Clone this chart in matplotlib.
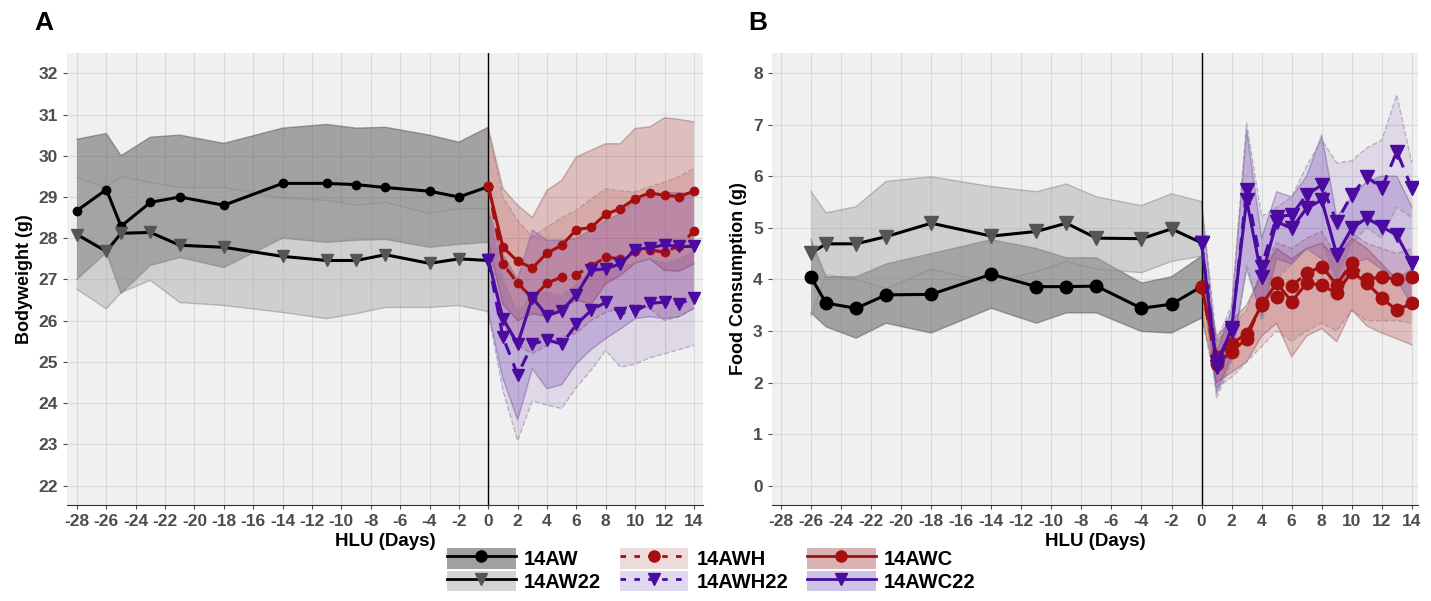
import numpy as np
import matplotlib.pyplot as plt
from matplotlib.patches import Patch
from matplotlib.lines import Line2D

plt.rcParams['font.family'] = ['Liberation Sans', 'DejaVu Sans']
plt.rcParams['axes.unicode_minus'] = False

# --- Panel A : poids corporel ---
jours_pre_A = [-28, -26, -25, -23, -21, -18, -14, -11, -9, -7, -4, -2, 0]
aw_A = [28.67, 29.18, 28.29, 28.87, 29.0, 28.8, 29.33, 29.33, 29.3, 29.23, 29.14, 29.0, 29.25]
aw_A_hi = [30.4, 30.54, 30.0, 30.45, 30.5, 30.3, 30.67, 30.76, 30.67, 30.69, 30.5, 30.33, 30.69]
aw_A_lo = [27.0, 27.65, 26.66, 27.34, 27.53, 27.29, 28.0, 27.9, 27.95, 27.97, 27.78, 27.85, 27.9]
aw22_A = [28.09, 27.68, 28.12, 28.14, 27.83, 27.78, 27.56, 27.46, 27.46, 27.6, 27.39, 27.5, 27.46]
aw22_A_hi = [29.47, 29.23, 29.5, 29.35, 29.23, 29.23, 28.97, 28.92, 28.8, 28.87, 28.6, 28.72, 28.72]
aw22_A_lo = [26.76, 26.29, 26.68, 26.98, 26.44, 26.37, 26.2, 26.05, 26.17, 26.32, 26.32, 26.37, 26.22]

jours_post = list(range(0, 15))
awc_A = [29.26, 27.78, 27.44, 27.28, 27.64, 27.83, 28.21, 28.26, 28.58, 28.72, 28.96, 29.1, 29.04, 29.01, 29.14]
awc_A_hi = [30.66, 29.2, 28.8, 28.5, 29.16, 29.4, 29.97, 30.13, 30.29, 30.29, 30.66, 30.7, 30.92, 30.88, 30.82]
awc_A_lo = [27.9, 26.4, 26.0, 26.17, 26.1, 26.3, 26.5, 26.4, 26.9, 27.1, 27.4, 27.5, 27.22, 27.2, 27.38]
awh_A = [29.26, 27.38, 26.91, 26.55, 26.91, 27.06, 27.12, 27.32, 27.54, 27.5, 27.7, 27.72, 27.66, 27.82, 28.17]
awh_A_hi = [30.66, 29.0, 28.43, 28.03, 28.27, 28.5, 28.68, 28.95, 29.2, 29.15, 29.12, 29.25, 29.36, 29.5, 29.69]
awh_A_lo = [27.9, 25.9, 25.4, 25.2, 25.4, 25.6, 25.7, 26.0, 26.2, 26.3, 26.4, 26.3, 26.0, 26.1, 26.3]
awc22_A = [27.48, 26.05, 25.44, 26.56, 26.12, 26.24, 26.63, 27.22, 27.26, 27.38, 27.72, 27.77, 27.84, 27.8, 27.8]
awc22_A_hi = [28.7, 27.6, 27.0, 28.2, 27.95, 27.95, 28.0, 28.2, 28.43, 28.6, 28.92, 29.0, 29.11, 29.1, 29.08]
awc22_A_lo = [26.2, 24.6, 23.6, 24.84, 24.35, 24.45, 24.96, 25.3, 25.57, 25.8, 26.05, 26.1, 26.05, 26.1, 26.3]
awh22_A = [27.48, 25.6, 24.69, 25.43, 25.54, 25.43, 25.91, 26.25, 26.45, 26.18, 26.23, 26.42, 26.45, 26.41, 26.56]
awh22_A_hi = [28.7, 27.0, 26.2, 26.6, 26.7, 26.6, 26.9, 27.2, 27.4, 27.3, 27.4, 27.5, 27.4, 27.5, 27.7]
awh22_A_lo = [26.2, 24.3, 23.09, 24.06, 23.95, 23.87, 24.38, 24.8, 25.28, 24.87, 24.95, 25.1, 25.2, 25.3, 25.4]

# --- Panel B : consommation alimentaire ---
jours_pre_B = [-26, -25, -23, -21, -18, -14, -11, -9, -7, -4, -2, 0]
aw_B = [4.04, 3.54, 3.44, 3.7, 3.71, 4.1, 3.86, 3.86, 3.87, 3.44, 3.52, 3.86]
aw_B_hi = [4.77, 4.05, 4.05, 4.3, 4.5, 4.77, 4.6, 4.42, 4.42, 3.93, 4.05, 4.45]
aw_B_lo = [3.35, 3.08, 2.86, 3.15, 2.96, 3.44, 3.15, 3.35, 3.35, 2.99, 2.96, 3.25]
aw22_B = [4.51, 4.69, 4.69, 4.83, 5.09, 4.84, 4.93, 5.09, 4.8, 4.79, 4.98, 4.71]
aw22_B_hi = [5.7, 5.29, 5.41, 5.9, 5.99, 5.8, 5.7, 5.85, 5.6, 5.43, 5.66, 5.51]
aw22_B_lo = [3.3, 4.09, 4.0, 3.82, 4.2, 3.93, 4.15, 4.35, 4.2, 4.13, 4.35, 4.45]

awc_B = [3.86, 2.5, 2.75, 2.95, 3.5, 3.93, 3.57, 3.93, 3.89, 3.73, 4.15, 3.93, 3.64, 3.4, 3.54]
awc_B_hi = [4.4, 2.9, 3.2, 3.5, 4.1, 4.6, 4.4, 4.6, 4.7, 4.4, 4.8, 4.6, 4.3, 4.0, 4.2]
awc_B_lo = [3.3, 2.0, 2.2, 2.4, 2.9, 3.15, 2.5, 2.9, 3.05, 2.79, 3.41, 3.1, 2.96, 2.85, 2.73]
awh_B = [3.86, 2.35, 2.6, 2.85, 3.55, 3.66, 3.87, 4.12, 4.25, 3.9, 4.32, 4.0, 4.05, 4.0, 4.05]
awh_B_hi = [4.4, 2.8, 3.1, 3.4, 4.2, 4.71, 4.6, 4.8, 4.93, 4.44, 4.9, 4.7, 4.6, 4.5, 4.6]
awh_B_lo = [3.3, 1.9, 2.1, 2.4, 2.7, 3.0, 2.8, 3.0, 3.15, 3.0, 3.4, 3.2, 3.2, 3.2, 3.15]
awc22_B = [4.7, 2.3, 3.05, 5.54, 4.05, 5.12, 4.99, 5.38, 5.54, 4.48, 4.99, 5.19, 5.02, 4.86, 4.31]
awc22_B_hi = [5.5, 2.6, 3.4, 6.9, 4.8, 5.7, 5.6, 6.0, 6.8, 5.2, 5.6, 5.9, 6.0, 6.0, 5.41]
awc22_B_lo = [4.0, 1.8, 2.5, 4.2, 3.3, 4.4, 4.3, 4.6, 4.4, 3.7, 4.3, 4.4, 4.2, 4.0, 3.5]
awh22_B = [4.7, 2.4, 3.0, 5.74, 4.25, 5.22, 5.25, 5.64, 5.83, 5.12, 5.64, 5.99, 5.77, 6.48, 5.77]
awh22_B_hi = [5.5, 2.8, 3.5, 7.03, 5.22, 5.4, 5.6, 6.2, 6.71, 6.26, 6.3, 6.55, 6.7, 7.58, 6.26]
awh22_B_lo = [4.4, 1.7, 2.4, 4.3, 3.2, 4.0, 4.3, 4.6, 4.7, 4.0, 4.7, 5.0, 4.8, 5.4, 5.2]

noms = ['14AW', '14AW22', '14AWH', '14AWH22', '14AWC', '14AWC22']
ROUGE = '#A50F0F'
VIOLET = '#4B0AA0'
GRIS_TXT = '#4D4D4D'


def bande(ax, x, lo, hi, couleur, alpha, style, bord):
    ax.fill_between(x, lo, hi, facecolor=couleur, alpha=alpha, linewidth=0, zorder=2)
    ax.plot(x, lo, color=bord, alpha=0.5, lw=1, ls=style, zorder=2)
    ax.plot(x, hi, color=bord, alpha=0.5, lw=1, ls=style, zorder=2)


def courbe(ax, x, y, couleur, marker, style, mfc=None, ms=7):
    ax.plot(x, y, color=couleur, lw=2.2, ls=style, marker=marker, ms=ms,
            mfc=mfc or couleur, mec=mfc or couleur, zorder=4)


def habillage(ax, yticks, ylabel):
    ax.set_facecolor('#F0F0F0')
    ax.set_xticks(range(-28, 15, 2))
    ax.set_yticks(yticks)
    ax.grid(True, color='#D9D9D9', lw=0.8, zorder=0)
    ax.set_axisbelow(True)
    for s in ['top', 'right', 'left']:
        ax.spines[s].set_visible(False)
    ax.spines['bottom'].set_color('#333333')
    ax.tick_params(axis='both', colors=GRIS_TXT, labelsize=12.5, length=3)
    for lab in ax.get_xticklabels() + ax.get_yticklabels():
        lab.set_fontweight('bold')
    ax.axvline(0, color='black', lw=1, zorder=3)
    ax.set_xlabel('HLU (Days)', fontsize=13.5, fontweight='bold', labelpad=3)
    ax.set_ylabel(ylabel, fontsize=13, fontweight='bold', labelpad=4)


fig = plt.figure(figsize=(14.31, 6.01), dpi=100)
axA = fig.add_axes([0.0468, 0.1597, 0.4444, 0.752])
axB = fig.add_axes([0.5393, 0.1597, 0.4517, 0.752])

# Panel A
bande(axA, jours_pre_A, aw_A_lo, aw_A_hi, '#555555', 0.5, '-', '#555555')
bande(axA, jours_pre_A, aw22_A_lo, aw22_A_hi, '#A8A8A8', 0.45, '-', '#888888')
bande(axA, jours_post, awc_A_lo, awc_A_hi, ROUGE, 0.22, '-', '#9A6A6A')
bande(axA, jours_post, awh_A_lo, awh_A_hi, ROUGE, 0.12, '--', '#9A8080')
bande(axA, jours_post, awc22_A_lo, awc22_A_hi, VIOLET, 0.2, '-', '#7A6A9A')
bande(axA, jours_post, awh22_A_lo, awh22_A_hi, VIOLET, 0.10, '--', '#85809A')
courbe(axA, jours_pre_A, aw_A, 'black', 'o', '-', ms=6)
courbe(axA, jours_pre_A, aw22_A, 'black', 'v', '-', mfc='#555555', ms=8)
courbe(axA, jours_post, awh_A, ROUGE, 'o', (0, (4, 3)), ms=6)
courbe(axA, jours_post, awc_A, ROUGE, 'o', '-', ms=6)
courbe(axA, jours_post, awh22_A, VIOLET, 'v', (0, (4, 3)), ms=8)
courbe(axA, jours_post, awc22_A, VIOLET, 'v', '-', ms=8)
axA.set_xlim(-28.68, 14.61)
axA.set_ylim(21.53, 32.49)
habillage(axA, range(22, 33), 'Bodyweight (g)')

# Panel B
bande(axB, jours_pre_B, aw_B_lo, aw_B_hi, '#555555', 0.5, '-', '#555555')
bande(axB, jours_pre_B, aw22_B_lo, aw22_B_hi, '#A8A8A8', 0.45, '-', '#888888')
bande(axB, jours_post, awc_B_lo, awc_B_hi, ROUGE, 0.22, '-', '#9A6A6A')
bande(axB, jours_post, awh_B_lo, awh_B_hi, ROUGE, 0.12, '--', '#9A8080')
bande(axB, jours_post, awc22_B_lo, awc22_B_hi, VIOLET, 0.2, '-', '#7A6A9A')
bande(axB, jours_post, awh22_B_lo, awh22_B_hi, VIOLET, 0.10, '--', '#85809A')
courbe(axB, jours_pre_B, aw_B, 'black', 'o', '-', ms=9)
courbe(axB, jours_pre_B, aw22_B, 'black', 'v', '-', mfc='#555555', ms=10.5)
courbe(axB, jours_post, awh_B, ROUGE, 'o', (0, (4, 3)), ms=9)
courbe(axB, jours_post, awc_B, ROUGE, 'o', '-', ms=9)
courbe(axB, jours_post, awh22_B, VIOLET, 'v', (0, (4, 3)), ms=10.5)
courbe(axB, jours_post, awc22_B, VIOLET, 'v', '-', ms=10.5)
axB.set_xlim(-28.62, 14.42)
axB.set_ylim(-0.376, 8.39)
habillage(axB, range(0, 9), 'Food Consumption (g)')

fig.text(0.024, 0.962, 'A', fontsize=19, fontweight='bold', va='center')
fig.text(0.523, 0.962, 'B', fontsize=19, fontweight='bold', va='center')

# --- Légende ---
fonds = ['#A0A0A0', '#D4D4D4', '#EDDADA', '#E0D8EE', '#D9B3B3', '#CCC2E2']
couleurs = ['black', 'black', ROUGE, VIOLET, ROUGE, VIOLET]
marqueurs = ['o', 'v', 'o', 'v', 'o', 'v']
mfcs = ['black', '#555555', ROUGE, VIOLET, ROUGE, VIOLET]
styles = ['-', '-', (0, (2, 3)), (0, (2, 3)), '-', '-']
poignees = []
for i in range(6):
    p = Patch(facecolor=fonds[i], edgecolor='none')
    l = Line2D([], [], color=couleurs[i], lw=2, ls=styles[i], marker=marqueurs[i],
               ms=8, mfc=mfcs[i], mec=mfcs[i])
    poignees.append((p, l))
leg = fig.legend(poignees, noms, ncol=3, loc='lower center', bbox_to_anchor=(0.497, -0.008),
                 frameon=False, handlelength=3.4, handleheight=1.2, labelspacing=0.08,
                 columnspacing=0.95, handletextpad=0.4, borderpad=0.2,
                 prop={'weight': 'bold', 'size': 14.5})

fig.savefig('out.png', dpi=100)
